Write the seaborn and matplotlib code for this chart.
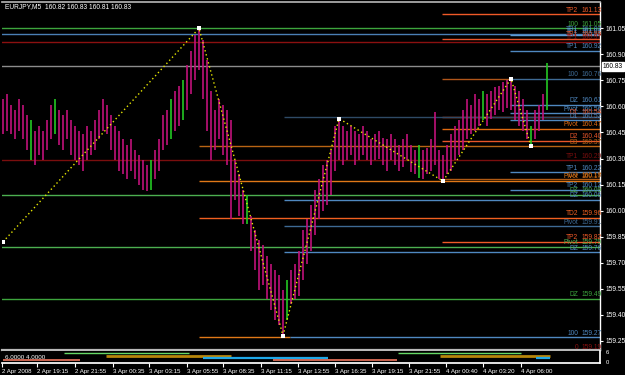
import matplotlib
matplotlib.use("Agg")
import matplotlib.pyplot as plt
import matplotlib.transforms as mtransforms
import numpy as np
import pandas as pd
import seaborn as sns

# ---------------- data ----------------
bar_high = [160.64, 160.67, 160.61, 160.58, 160.64, 160.61, 160.55, 160.52, 160.46, 160.49,
            160.46, 160.52, 160.61, 160.64, 160.58, 160.55, 160.58, 160.52, 160.49, 160.46,
            160.44, 160.49, 160.46, 160.52, 160.58, 160.64, 160.61, 160.55, 160.49, 160.46,
            160.41, 160.38, 160.41, 160.35, 160.32, 160.29, 160.26, 160.29, 160.35, 160.41,
            160.55, 160.58, 160.64, 160.69, 160.72, 160.75, 160.84, 160.92, 161.01, 161.05,
            160.98, 160.87, 160.69, 160.58, 160.64, 160.61, 160.58, 160.52, 160.29, 160.21,
            160.12, 160.09, 159.97, 159.89, 159.83, 159.80, 159.74, 159.69, 159.66, 159.63,
            159.54, 159.60, 159.66, 159.69, 159.77, 159.89, 159.95, 160.03, 160.12, 160.18,
            160.26, 160.29, 160.35, 160.49, 160.53, 160.49, 160.46, 160.49, 160.46, 160.44,
            160.49, 160.46, 160.41, 160.44, 160.46, 160.42, 160.41, 160.44, 160.41, 160.38,
            160.41, 160.44, 160.38, 160.35, 160.38, 160.35, 160.36, 160.41, 160.57, 160.35,
            160.32, 160.38, 160.44, 160.49, 160.52, 160.58, 160.64, 160.61, 160.67, 160.64,
            160.69, 160.67, 160.69, 160.71, 160.72, 160.74, 160.75, 160.76, 160.72, 160.69,
            160.64, 160.58, 160.49, 160.58, 160.61, 160.67, 160.85]
bar_low = [160.44, 160.46, 160.44, 160.41, 160.46, 160.41, 160.35, 160.29, 160.26, 160.32,
           160.29, 160.35, 160.41, 160.44, 160.38, 160.35, 160.41, 160.32, 160.29, 160.26,
           160.23, 160.29, 160.32, 160.35, 160.41, 160.46, 160.44, 160.35, 160.29, 160.23,
           160.21, 160.18, 160.23, 160.18, 160.15, 160.12, 160.11, 160.12, 160.18, 160.23,
           160.35, 160.38, 160.41, 160.46, 160.49, 160.52, 160.58, 160.67, 160.75, 160.81,
           160.64, 160.46, 160.29, 160.35, 160.41, 160.32, 160.26, 159.95, 160.06, 159.97,
           159.92, 159.92, 159.77, 159.66, 159.54, 159.57, 159.49, 159.43, 159.37, 159.34,
           159.28, 159.37, 159.46, 159.49, 159.51, 159.60, 159.69, 159.77, 159.86, 159.95,
           160.00, 160.03, 160.09, 160.23, 160.29, 160.26, 160.29, 160.32, 160.26, 160.29,
           160.32, 160.29, 160.26, 160.29, 160.30, 160.26, 160.23, 160.29, 160.26, 160.23,
           160.25, 160.29, 160.22, 160.21, 160.19, 160.18, 160.21, 160.23, 160.26, 160.18,
           160.17, 160.21, 160.23, 160.29, 160.32, 160.35, 160.41, 160.44, 160.46, 160.49,
           160.52, 160.49, 160.53, 160.55, 160.58, 160.57, 160.59, 160.58, 160.52, 160.49,
           160.46, 160.41, 160.37, 160.41, 160.46, 160.52, 160.58]
green_bars = [7, 13, 37, 42, 45, 61, 71, 104, 120, 132, 136]

zz_idx = [0, 49, 70, 84, 110, 127, 132]
zz_price = [159.82, 161.05, 159.28, 160.53, 160.17, 160.76, 160.37]

level_price = [161.13, 161.05, 161.02, 161.01, 160.99, 160.97, 160.92, 160.83, 160.76, 160.76,
               160.61, 160.56, 160.54, 160.54, 160.52, 160.47, 160.40, 160.37, 160.29, 160.22,
               160.18, 160.17, 160.12, 160.09, 160.06, 159.96, 159.91, 159.82, 159.79, 159.76,
               159.49, 159.27, 159.27, 159.19]
level_name = ["TP2", "100", "TP1", "TP1", "TP1", "TP1", "TP1", "", "", "100",
              "DZ", "Pivot", "D1", "", "D1", "Pivot", "D2", "D3", "TP1", "TP1",
              "100", "Pivot", "TP2", "DZ", "DZ", "TD2", "Pivot", "TP2", "Pivot", "DZ",
              "DZ", "", "100", "0"]
level_color = ["#F05A28", "#3DA53D", "#4A7FB5", "#5B9BD5", "#E8562A", "#8B1010", "#4F88C0", "#8C8C8C", "#B0561A", "#3E6A94",
               "#4F88C0", "#4F88C0", "#E8562A", "#2E4A66", "#4F88C0", "#E06A10", "#E8562A", "#B86414", "#7A0E0E", "#4F88C0",
               "#B05A14", "#E07818", "#4F88C0", "#4CAF50", "#4F88C0", "#F06020", "#3E6A94", "#F05A28", "#4CAF50", "#4F88C0",
               "#3DA53D", "#E07818", "#4F88C0", "#8B1010"]
level_start = [109.75, -1, -1, 126.75, 109.75, -1, 126.75, -1, 109.75, 126.75,
               126.75, 126.75, 109.75, 70.25, 126.75, 109.75, 109.75, 49.0, -1, 126.75,
               109.75, 49.0, 126.75, -1, 70.25, 49.0, 70.25, 109.75, -1, 70.25,
               -1, 49.0, 71.75, -1]
level_end = [150, 150, 150, 150, 150, 150, 150, 150, 126.75, 150,
             150, 150, 150, 150, 150, 150, 150, 150, 150, 150,
             150, 150, 150, 150, 150, 150, 150, 150, 150, 150,
             150, 71.75, 150, 150]

price_ticks = [161.05, 160.90, 160.75, 160.60, 160.45, 160.30, 160.15, 160.00,
               159.85, 159.70, 159.55, 159.40, 159.25]
current_price = 160.83

time_pos = [-0.25, 8.5, 18.0, 27.5, 36.5, 46.0, 55.0, 64.5, 73.75, 83.0, 92.25, 101.5, 110.75, 120.0, 129.5]
time_labels = ["2 Apr 2008", "2 Apr 19:15", "2 Apr 21:55", "3 Apr 00:35", "3 Apr 03:15",
               "3 Apr 05:55", "3 Apr 08:35", "3 Apr 11:15", "3 Apr 13:55", "3 Apr 16:35",
               "3 Apr 19:15", "3 Apr 21:55", "4 Apr 00:40", "4 Apr 03:20", "4 Apr 06:00"]

ind_start = [15.25, 98.75, 25.75, 109.25, 50.0, 133.25, 0.0, 67.5]
ind_end = [46.5, 129.5, 57.0, 136.75, 81.25, 136.75, 19.25, 98.5]
ind_value = [5.4, 5.4, 3.8, 3.8, 2.7, 2.7, 1.6, 1.6]
ind_color = ["#66D866", "#66D866", "#B8860B", "#B8860B", "#1EA8E8", "#1EA8E8", "#F07860", "#F07860"]
ind_width = [1.0, 1.0, 2.0, 2.0, 1.6, 1.6, 1.2, 1.2]

# ---------------- style ----------------
sns.set_theme(style="dark", rc={"axes.facecolor": "black", "figure.facecolor": "black"})
plt.rcParams["font.family"] = ["Liberation Sans", "DejaVu Sans"]

W, H = 625, 375
fig = plt.figure(figsize=(W / 100, H / 100), dpi=100)
fig.patch.set_facecolor("black")

ax = fig.add_axes([2 / W, 1 - 350 / H, 598 / W, 348 / H])
ax2 = fig.add_axes([2 / W, 1 - 363 / H, 598 / W, 12 / H])
for a in (ax, ax2):
    a.set_facecolor("black")
    a.grid(False)
    a.set_xlim(-0.25, 149.25)

ax.set_ylim(159.197, 161.2015)

LFS = 4.8
# levels
for p, n, c, s, e in zip(level_price, level_name, level_color, level_start, level_end):
    ax.hlines(p, s, e, colors=c, linewidth=1.0, zorder=1)
    if n:
        ax.text(143.8, p + 0.004, n, color=c, fontsize=LFS, ha="right", va="bottom", zorder=5)
        ax.text(144.6, p + 0.004, f"{p:.2f}", color=c, fontsize=LFS, ha="left", va="bottom", zorder=5)

# bars
idx = np.arange(len(bar_high))
cols = ["#23C823" if i in green_bars else "#C0127A" for i in idx]
ax.vlines(idx, bar_low, bar_high, colors=cols, linewidth=1.2, zorder=3)

# zigzag
zz = pd.DataFrame({"x": zz_idx, "y": zz_price})
sns.lineplot(data=zz, x="x", y="y", ax=ax, color="#E6E600", linewidth=1.0,
             linestyle=(0, (1, 2)), zorder=4, legend=False)
sns.scatterplot(data=zz, x="x", y="y", ax=ax, color="white", marker="s", s=5,
                linewidth=0, zorder=6, legend=False)

# axes styling main
ax.yaxis.tick_right()
ax.set_yticks(price_ticks)
ax.set_yticklabels([f"{t:.2f}" for t in price_ticks])
ax.tick_params(axis="y", colors="white", labelsize=LFS, length=2.5, width=0.8, pad=1.5, right=True, left=False)
ax.set_xticks([])
ax.set_xlabel("")
ax.set_ylabel("")
ax.spines["left"].set_visible(False)
ax.spines["right"].set_color("white")
ax.spines["top"].set_color("#B0B0B0")
ax.spines["bottom"].set_color("#B8B8B8")
ax.spines["bottom"].set_linewidth(1.6)
ax.spines["right"].set_linewidth(1.0)

# current price box
tr = mtransforms.blended_transform_factory(ax.transAxes, ax.transData)
ax.text(1.005, current_price, f"{current_price:.2f}", transform=tr, color="black", fontsize=LFS,
        ha="left", va="center", bbox=dict(boxstyle="square,pad=0.12", fc="white", ec="white"), zorder=10,
        clip_on=False)

# title
fig.text(5 / W, 1 - 7 / H, "EURJPY,M5  160.82 160.83 160.81 160.83", color="white", fontsize=LFS,
         ha="left", va="center")

# indicator sub window
ax2.set_ylim(0, 6.5)
ax2.hlines(ind_value, ind_start, ind_end, colors=ind_color, linewidth=ind_width)
ax2.text(0.005, 0.45, "6.0000 4.0000", transform=ax2.transAxes, color="white", fontsize=4.5,
         ha="left", va="center")
ax2.yaxis.tick_right()
ax2.set_yticks([6, 0.6])
ax2.set_yticklabels(["6", "0"])
ax2.tick_params(axis="y", colors="white", labelsize=4.2, length=0, pad=4)
ax2.set_xticks(time_pos)
ax2.set_xticklabels(time_labels)
ax2.tick_params(axis="x", colors="white", labelsize=4.4, length=3, width=0.8, pad=1, bottom=True)
for lab in ax2.get_xticklabels():
    lab.set_ha("left")
ax2.spines["left"].set_visible(False)
ax2.spines["top"].set_visible(False)
ax2.spines["right"].set_color("white")
ax2.spines["bottom"].set_color("white")

fig.savefig("out.png", dpi=100, facecolor="black")
